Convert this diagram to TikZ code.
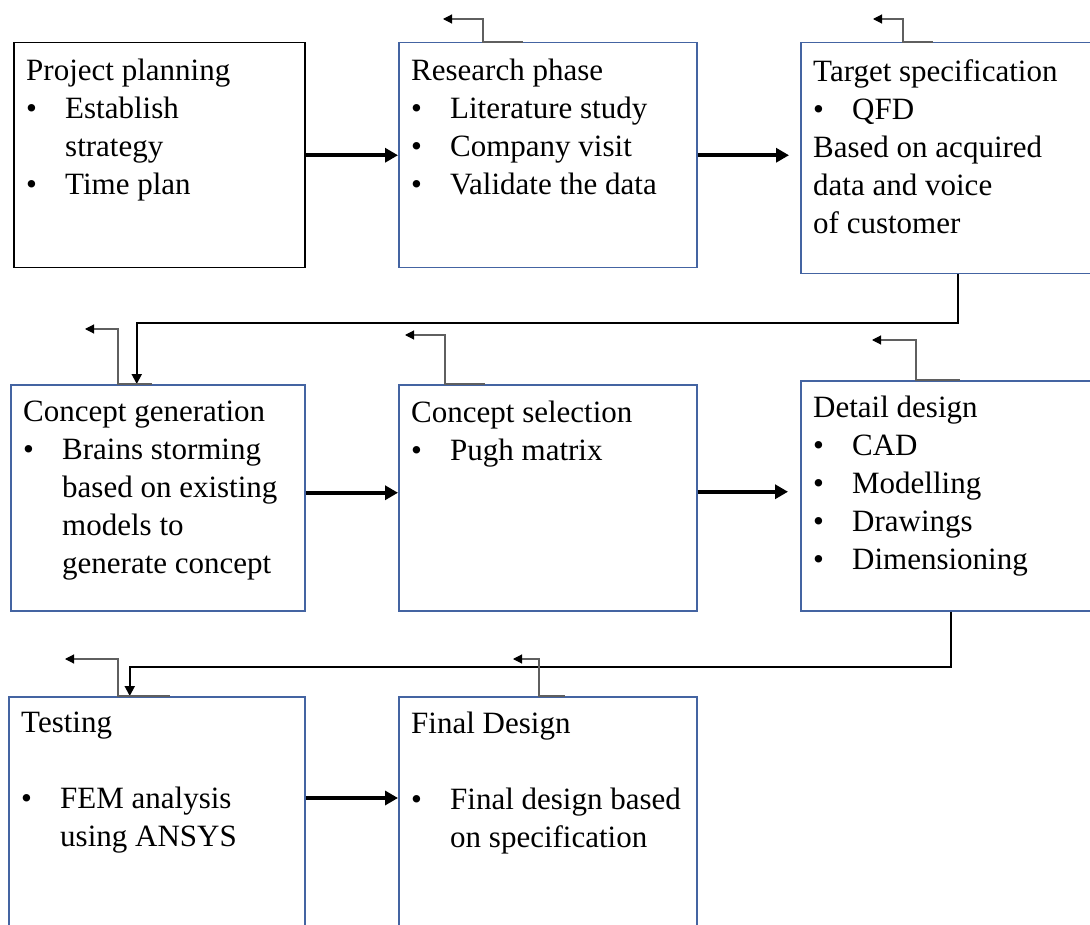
\documentclass[tikz,border=0pt]{standalone}
\usepackage{fontspec}
\setmainfont{Liberation Serif}
\usepackage{tikz}
\usetikzlibrary{arrows.meta, positioning}
\definecolor{cBoxBlue}{RGB}{68,100,162}
\definecolor{cBack}{RGB}{95,95,95}
\newcommand{\bpt}{\makebox[39pt][l]{\textbullet}}
\newcommand{\bind}{\hspace*{39pt}}
\tikzset{
	stage/.style   ={rectangle, draw=cBoxBlue, line width=1.5pt, anchor=north west, inner sep=0pt},
	stagetxt/.style={anchor=north west, align=left, inner xsep=13pt, inner ysep=17pt, font=\fontsize{31}{38}\selectfont},
	mainarrow/.style={-{Triangle[length=13pt, width=14pt]}, line width=3.5pt},
	link/.style    ={-{Triangle[length=10pt, width=10pt]}, line width=2pt},
	% small return arrows above the boxes
	back/.style    ={-{Triangle[length=9pt, width=9pt, color=black]}, line width=1.1pt, draw=cBack},
}

\begin{document}
\begin{tikzpicture}[x=1pt, y=-1pt]
	\useasboundingbox (0,0) rectangle (1090,925);
	% row 1
	\node[stage, draw=black, minimum width=291pt, minimum height=225pt] (plan) at (13,42) {};
	\node[stagetxt] (plantxt) at (plan.north west) {Project planning\\ \bpt Establish\\ \bind strategy\\ \bpt Time plan};
	\node[stage, minimum width=298pt, minimum height=225pt] (research) at (398,42) {};
	\node[stagetxt] (researchtxt) at (research.north west) {Research phase\\ \bpt Literature study\\ \bpt Company visit\\ \bpt Validate the data};
	\node[stage, minimum width=314pt, minimum height=231pt] (target) at (800,42) {};
	\node[stagetxt] (targettxt) at (target.north west) {Target specification\\ \bpt QFD\\ Based on acquired\\ data and voice\\ of customer};
	% row 2
	\node[stage, minimum width=294pt, minimum height=226pt] (cgen) at (10,384) {};
	\node[stagetxt] (cgentxt) at (cgen.north west) {Concept generation\\ \bpt Brains storming\\ \bind based on existing\\ \bind models to\\ \bind generate concept};
	\node[stage, minimum width=298pt, minimum height=226pt] (csel) at (398,384) {};
	\node[stagetxt] (cseltxt) at (csel.north west) {Concept selection\\ \bpt Pugh matrix};
	\node[stage, minimum width=300pt, minimum height=230pt] (detail) at (800,380) {};
	\node[stagetxt, inner ysep=16pt] (detailtxt) at (detail.north west) {Detail design\\ \bpt CAD\\ \bpt Modelling\\ \bpt Drawings\\ \bpt Dimensioning};
	% row 3
	\node[stage, minimum width=296pt, minimum height=240pt] (testing) at (8,696) {};
	\node[stagetxt, inner ysep=16pt] (testingtxt) at (testing.north west) {Testing\\[38pt] \bpt FEM analysis\\ \bind using ANSYS};
	\node[stage, minimum width=298pt, minimum height=240pt] (final) at (398,696) {};
	\node[stagetxt, inner ysep=16pt] (finaltxt) at (final.north west) {Final Design\\[38pt] \bpt Final design based\\ \bind on specification};

	\draw[mainarrow] (plan) -- (research);
	\draw[mainarrow, shorten >=11pt] (research.east) -- (research.east -| target.west);
	\draw[mainarrow] ([yshift=5pt]cgen.east) -- ([yshift=5pt]csel.west);
	\draw[mainarrow, shorten >=12pt] ([yshift=6pt]csel.east) -- ([yshift=6pt]csel.east -| detail.west);
	\draw[mainarrow] ([yshift=-102pt]testing.north east) -- ([yshift=-102pt]final.north west);
	\draw[link] (target.south) -- ++(0,49) -| ([xshift=-21pt]cgen.north);
	\draw[link] (detail.south) -- ++(0,55) -| ([xshift=-27pt]testing.north);

	\coordinate (researchback) at (443,19);
	\coordinate (targetback) at (873,19);
	\coordinate (cgenback) at (85,329);
	\coordinate (cselback) at (405,335);
	\coordinate (detailback) at (872,340);
	\coordinate (testingback) at (65,659);
	\coordinate (finalback) at (513,659);
	\draw[back] ([xshift=125pt]research.north west) -- ([xshift=85pt]research.north west) |- (researchback);
	\draw[back] ([xshift=133pt]target.north west) -- ([xshift=103pt]target.north west) |- (targetback);
	\draw[back] ([xshift=142pt]cgen.north west) -- ([xshift=108pt]cgen.north west) |- (cgenback);
	\draw[back] ([xshift=87pt]csel.north west) -- ([xshift=47pt]csel.north west) |- (cselback);
	\draw[back] ([xshift=160pt]detail.north west) -- ([xshift=116pt]detail.north west) |- (detailback);
	\draw[back] ([xshift=162pt]testing.north west) -- ([xshift=110pt]testing.north west) |- (testingback);
	\draw[back] ([xshift=167pt]final.north west) -- ([xshift=141pt]final.north west) |- (finalback);
\end{tikzpicture}
\end{document}
